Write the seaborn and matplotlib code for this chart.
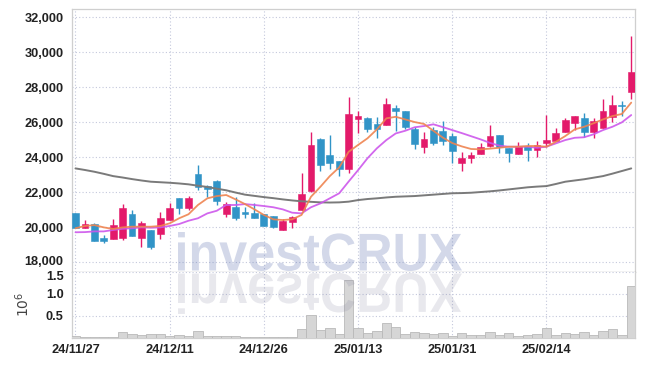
import numpy as np
import pandas as pd
import matplotlib
matplotlib.use('Agg')
import matplotlib.pyplot as plt
import seaborn as sns
from matplotlib.textpath import TextPath
from matplotlib.patches import PathPatch
from matplotlib.font_manager import FontProperties, fontManager
from matplotlib.transforms import Affine2D, IdentityTransform, ScaledTranslation
from matplotlib.ticker import FuncFormatter

# ---------------- data ----------------
opens = [20800, 19950, 20170, 19390, 19330, 19370, 20740, 19350, 19830, 19580,
         20400, 21670, 21100, 23030, 22340, 22650, 20730, 21130, 20860, 20800,
         20740, 20630, 19830, 20300, 20970, 22070, 25030, 24110, 23770, 23300,
         26190, 26230, 25890, 25850, 26780, 26630, 25600, 24590, 25540, 25490,
         25200, 23670, 23960, 24150, 24650, 25260, 24530, 24170, 24630, 24400,
         24820, 24930, 25450, 25960, 26210, 25450, 25640, 26270, 26970, 27700]
highs = [20800, 20400, 20210, 19540, 20460, 21310, 20970, 20360, 19830, 20840,
         21350, 21670, 21770, 23540, 22430, 22690, 21450, 21730, 21130, 21350,
         20740, 20630, 20440, 20630, 23070, 25410, 25070, 25260, 23770, 27450,
         26650, 26300, 26270, 27350, 26970, 26630, 25730, 25450, 25700, 26070,
         25390, 24300, 24300, 24820, 25830, 25260, 24530, 24870, 24780, 24930,
         26400, 25640, 26210, 26360, 26500, 26210, 27310, 27540, 27220, 30910]
lows = [19950, 19950, 19220, 19070, 19330, 19260, 19500, 18870, 18730, 19300,
        20400, 20740, 20970, 22110, 21730, 21260, 20550, 20400, 20510, 20530,
        20070, 19930, 19830, 19930, 20970, 22020, 23200, 23300, 22910, 23070,
        25390, 25450, 25070, 25850, 25500, 25600, 24440, 24210, 24690, 24690,
        23670, 23200, 23640, 24150, 24590, 24210, 23700, 24170, 23790, 23980,
        24590, 24930, 25450, 25540, 25160, 25070, 25640, 25980, 26340, 27300]
closes = [19950, 20170, 19220, 19220, 20110, 21070, 19500, 20250, 18870, 20500,
          21070, 21100, 21640, 22300, 22150, 21500, 21310, 20530, 20740, 20530,
          20070, 20020, 20360, 20570, 21890, 24690, 23540, 23670, 23300, 26460,
          26340, 25600, 25600, 27030, 26650, 25730, 24730, 25010, 24780, 24910,
          24340, 23930, 24110, 24550, 25200, 24590, 24250, 24630, 24400, 24690,
          24970, 25350, 26110, 26360, 25450, 26070, 26630, 26970, 26910, 28870]
ma5 = [19930, 20060, 20110, 19980, 19890, 19980, 20020, 20020, 20020, 20060,
       20210, 20500, 20730, 21260, 21640, 21770, 21830, 21580, 21310, 21010,
       20690, 20440, 20400, 20440, 20690, 21730, 22300, 22910, 23410, 24300,
       24690, 25070, 25580, 26210, 26300, 26150, 26000, 25890, 25500, 25110,
       24800, 24610, 24460, 24440, 24480, 24530, 24590, 24590, 24630, 24630,
       24590, 24870, 25200, 25580, 25730, 25930, 26150, 26340, 26460, 27110]
ma10 = [19700, 19710, 19750, 19750, 19830, 19900, 19930, 19980, 19960, 19980,
        20060, 20170, 20360, 20500, 20780, 20930, 21260, 21260, 21310, 21260,
        21200, 21130, 21010, 20820, 20780, 21130, 21350, 21640, 21930, 22600,
        23250, 23930, 24500, 24970, 25350, 25500, 25700, 25770, 25870, 25710,
        25540, 25370, 25190, 25010, 24810, 24650, 24590, 24590, 24590, 24530,
        24590, 24780, 24970, 25100, 25130, 25300, 25540, 25730, 25980, 26400]
ma60 = [23350, 23260, 23160, 23040, 22910, 22830, 22740, 22660, 22590, 22560,
        22530, 22490, 22440, 22360, 22290, 22190, 22100, 21970, 21850, 21780,
        21710, 21650, 21580, 21520, 21470, 21440, 21410, 21400, 21410, 21450,
        21540, 21600, 21640, 21690, 21730, 21750, 21770, 21810, 21850, 21890,
        21930, 21940, 21960, 22000, 22040, 22090, 22150, 22210, 22270, 22310,
        22340, 22460, 22590, 22660, 22730, 22820, 22910, 23050, 23200, 23350]
volume_m = [0.045, 0.02, 0.01, 0.01, 0.02, 0.13, 0.08, 0.06, 0.08, 0.08,
            0.045, 0.06, 0.045, 0.15, 0.045, 0.045, 0.045, 0.03, 0.02, 0.02,
            0.02, 0.02, 0.02, 0.02, 0.195, 0.51, 0.18, 0.22, 0.08, 1.32,
            0.22, 0.105, 0.157, 0.33, 0.247, 0.08, 0.135, 0.105, 0.08, 0.105,
            0.045, 0.105, 0.06, 0.06, 0.135, 0.06, 0.105, 0.04, 0.06, 0.08,
            0.22, 0.06, 0.105, 0.08, 0.135, 0.06, 0.157, 0.2, 0.06, 1.18]
date_tick_labels = ['24/11/27', '24/12/11', '24/12/26', '25/01/13', '25/01/31', '25/02/14']
date_tick_step = 10
price_ticks = [18000, 20000, 22000, 24000, 26000, 28000, 30000, 32000]
volume_ticks = [0.5, 1.0, 1.5]
watermark = 'investCRUX'

# ---------------- style ----------------
sns.set_theme(style='white')
names = {f.name for f in fontManager.ttflist}
tick_font = 'Liberation Sans' if 'Liberation Sans' in names else 'DejaVu Sans'
plt.rcParams['font.family'] = [tick_font, 'DejaVu Sans']

RED = '#e31a6a'
BLUE = '#3194c7'
ORANGE = '#ef8451'
MAGENTA = '#cd57ec'
GRAY = '#7a7a7a'
GRID = '#c4c8dc'
SPINE = '#cfcfcf'

W, H = 645, 366
L, R = 72, 635
fig = plt.figure(figsize=(W / 100, H / 100), dpi=100)
ax = fig.add_axes([L / W, 1 - 272 / H, (R - L) / W, (272 - 9) / H])
axv = fig.add_axes([L / W, 1 - 337.5 / H, (R - L) / W, (337.5 - 272) / H], sharex=ax)

n = len(closes)
df = pd.DataFrame({'idx': np.arange(n), 'open': opens, 'high': highs, 'low': lows,
                   'close': closes, 'ma5': ma5, 'ma10': ma10, 'ma60': ma60,
                   'vol': volume_m})
up = df['close'] >= df['open']
cols = np.where(up, RED, BLUE)

# candles
ax.vlines(df['idx'], df['low'], df['high'], colors=cols, lw=1.0, zorder=3)
body = np.maximum((df['close'] - df['open']).abs(), 60)
ax.bar(df['idx'], body, bottom=np.minimum(df['open'], df['close']), width=0.72,
       color=cols, edgecolor=cols, linewidth=0.4, zorder=4)

# moving averages
sns.lineplot(data=df, x='idx', y='ma60', ax=ax, color=GRAY, lw=1.4, zorder=5)
sns.lineplot(data=df, x='idx', y='ma10', ax=ax, color=MAGENTA, lw=1.3, alpha=0.9, zorder=6)
sns.lineplot(data=df, x='idx', y='ma5', ax=ax, color=ORANGE, lw=1.3, alpha=0.9, zorder=7)

# volume
axv.bar(df['idx'], df['vol'], width=1.0, color='#d6d6d6', edgecolor='#b9b9b9',
        linewidth=0.6, zorder=3)

# axes limits
ax.set_xlim(-0.37, n - 1 + 0.4)
ax.set_ylim(17430, 32460)
axv.set_ylim(0, 1.5)

# ticks
xt = [i * date_tick_step for i in range(len(date_tick_labels))]
axv.set_xticks(xt)
axv.set_xticklabels(date_tick_labels)
ax.set_yticks(price_ticks)
ax.yaxis.set_major_formatter(FuncFormatter(lambda v, p: f'{int(v):,}'))
axv.set_yticks(volume_ticks)
axv.set_yticklabels([f'{v:.1f}' for v in volume_ticks])
plt.setp(ax.get_xticklabels(), visible=False)

for a in (ax, axv):
    a.tick_params(axis='both', length=0, colors='#222222', labelsize=9.2, pad=6)
    for lab in a.get_yticklabels() + a.get_xticklabels():
        lab.set_fontweight('bold')
    a.grid(True, color=GRID, linestyle=(0, (1, 2)), lw=0.8)
    a.set_axisbelow(True)
    a.set_xlabel('')
    a.set_ylabel('')
    for s in a.spines.values():
        s.set_color(SPINE)
        s.set_linewidth(0.9)
axv.tick_params(axis='x', labelsize=9.2, pad=5)
ax.spines['bottom'].set_color('#9a9a9a')
axv.spines['top'].set_visible(False)

# keep the touching labels 18,000 / 1.5 apart as in the reference
fig.canvas.draw()
for lab in axv.get_yticklabels():
    if lab.get_text() == '1.5':
        lab.set_transform(lab.get_transform() + ScaledTranslation(0, -0.035, fig.dpi_scale_trans))
for lab in ax.get_yticklabels():
    if lab.get_text() == '18,000':
        lab.set_transform(lab.get_transform() + ScaledTranslation(0, 0.015, fig.dpi_scale_trans))

axv.set_ylabel('$10^{6}$', fontsize=10, color='#444444', family='DejaVu Sans')
axv.yaxis.set_label_coords(-0.071, 0.5)

# watermark with reflection
fp = FontProperties(family=tick_font, weight='bold')
tp = TextPath((0, 0), watermark, size=100, prop=fp)
ext = tp.get_extents()
x0, x1 = 178, 462
top_img, base_img = 232, 271
sx = (x1 - x0) / ext.width
sy = (base_img - top_img) / ext.height
tr = Affine2D().translate(-ext.x0, -ext.y0).scale(sx, sy).translate(x0, H - base_img)
fig.add_artist(PathPatch(tr.transform_path(tp), transform=IdentityTransform(),
                         facecolor=(0.38, 0.46, 0.70), alpha=0.28, lw=0, zorder=10))
tr2 = Affine2D().translate(-ext.x0, -ext.y0).scale(sx, -sy * 1.05).translate(x0, H - 273)
fig.add_artist(PathPatch(tr2.transform_path(tp), transform=IdentityTransform(),
                         facecolor=(0.45, 0.45, 0.58), alpha=0.16, lw=0, zorder=10))

fig.savefig('out.png', dpi=100)
